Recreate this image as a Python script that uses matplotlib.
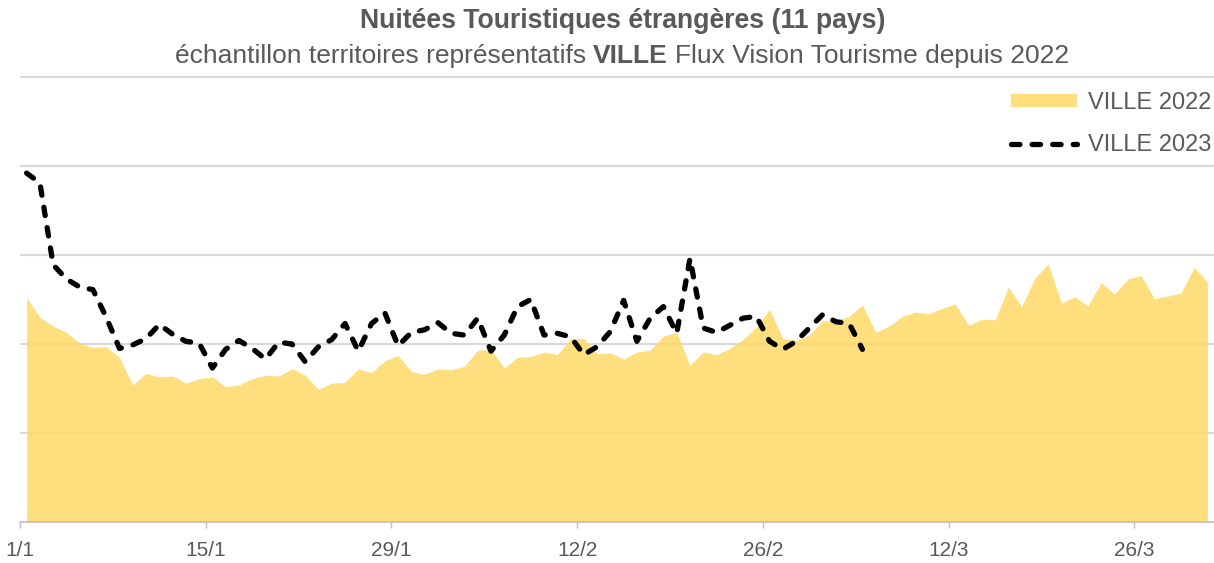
import numpy as np
import matplotlib
matplotlib.use('Agg')
import matplotlib.pyplot as plt
from matplotlib.patches import Patch
from matplotlib.lines import Line2D

# ---- data ----
tick_labels = ['1/1', '15/1', '29/1', '12/2', '26/2', '12/3', '26/3']
tick_days = [0, 14, 28, 42, 56, 70, 84]

v2022 = [2.52, 2.30, 2.20, 2.13, 2.01, 1.96, 1.97, 1.85, 1.54, 1.67,
         1.63, 1.64, 1.56, 1.61, 1.63, 1.52, 1.54, 1.61, 1.65, 1.64,
         1.72, 1.65, 1.49, 1.56, 1.57, 1.72, 1.68, 1.81, 1.87, 1.69,
         1.66, 1.72, 1.71, 1.75, 1.93, 1.94, 1.73, 1.85, 1.86, 1.91,
         1.88, 2.06, 2.06, 1.89, 1.90, 1.83, 1.91, 1.93, 2.09, 2.13,
         1.76, 1.91, 1.88, 1.95, 2.05, 2.19, 2.39, 2.06, 2.04, 2.10,
         2.26, 2.26, 2.31, 2.44, 2.13, 2.20, 2.31, 2.36, 2.34, 2.40,
         2.45, 2.21, 2.28, 2.27, 2.64, 2.42, 2.74, 2.90, 2.46, 2.53,
         2.43, 2.69, 2.56, 2.73, 2.77, 2.51, 2.54, 2.57, 2.86, 2.70]

v2023 = [3.92, 3.81, 2.89, 2.73, 2.64, 2.61, 2.30, 1.95, 1.99, 2.06,
         2.22, 2.11, 2.03, 2.01, 1.73, 1.94, 2.04, 1.95, 1.83, 2.02,
         2.00, 1.80, 1.97, 2.05, 2.23, 1.92, 2.23, 2.35, 1.98, 2.13,
         2.16, 2.24, 2.12, 2.10, 2.29, 1.92, 2.10, 2.42, 2.50, 2.10,
         2.12, 2.08, 1.88, 1.97, 2.14, 2.49, 2.03, 2.29, 2.42, 2.12,
         2.96, 2.18, 2.13, 2.21, 2.29, 2.31, 2.03, 1.94, 2.03, 2.18,
         2.33, 2.25, 2.23, 1.94]

labels = ['VILLE 2022', 'VILLE 2023']
title1 = 'Nuitées Touristiques étrangères (11 pays)'
sub_parts = [('échantillon territoires représentatifs', 'normal'),
             ('VILLE', 'bold'),
             ('Flux Vision Tourisme depuis 2022', 'normal')]

# ---- style ----
plt.rcParams['font.family'] = ['Liberation Sans', 'DejaVu Sans']
GREY = '#595959'
AREA = '#FFD966'

W, H = 1214, 563
fig = plt.figure(figsize=(W / 100, H / 100), dpi=100)
ymax = 5.02
top_px = 522 - ymax * 89
left_px = 20
ax = fig.add_axes([left_px / W, (H - 522) / H, (W - left_px) / W, (522 - top_px) / H])

x2022 = np.arange(len(v2022))
x2023 = np.arange(len(v2023))

ax.fill_between(x2022, v2022, 0, color=AREA, alpha=0.85, lw=0, zorder=2)
ax.plot(x2023, v2023, color='black', lw=3.8, linestyle=(0, (1.6, 2.3)),
        dash_capstyle='round', solid_capstyle='round', zorder=3)

ax.set_xlim(-0.5, len(v2022) - 0.5)
ax.set_ylim(0, ymax)
ax.set_yticks([1, 2, 3, 4, 5])
ax.yaxis.grid(True, color='#d9d9d9', lw=1.5)
ax.set_axisbelow(True)
ax.tick_params(axis='y', left=False, labelleft=False)
ax.set_xticks([d - 0.5 for d in tick_days])
ax.set_xticklabels(tick_labels)
ax.tick_params(axis='x', length=4.5, width=1, color='#bfbfbf', labelsize=15,
               labelcolor=GREY, pad=9.5)
for s in ['top', 'left', 'right']:
    ax.spines[s].set_visible(False)
ax.spines['bottom'].set_color('#bfbfbf')
ax.spines['bottom'].set_linewidth(1.2)
ax.spines['bottom'].set_zorder(4)

# legend
handles = [Patch(facecolor=AREA, alpha=0.85, edgecolor='none'),
           Line2D([0], [0], color='black', lw=3.8, linestyle=(0, (1.6, 2.3)),
                  dash_capstyle='round')]
leg = fig.legend(handles, labels, loc='upper right',
                 bbox_to_anchor=(1211 / W, 1 - 92 / H), frameon=False,
                 fontsize=17, labelcolor=GREY, handlelength=2.8,
                 handleheight=0.45, handletextpad=0.45, labelspacing=0.85,
                 borderpad=0, borderaxespad=0)

# titles
fig.text(0.5 * (358 + 888) / W, 1 - 21 / H, title1, ha='center', va='center',
         fontsize=19.2, fontweight='bold', color=GREY)

renderer = fig.canvas.get_renderer()
def twidth(s, weight):
    t = fig.text(0, 0, s, fontsize=19, fontweight=weight)
    w = t.get_window_extent(renderer).width
    t.remove()
    return w
space_w = twidth('a a', 'normal') - twidth('aa', 'normal')
widths = [twidth(s, wgt) for s, wgt in sub_parts]
total = sum(widths) + space_w * (len(sub_parts) - 1)
cx = 0.5 * (169 + 1075)
x0 = cx - total / 2
y_sub = H - 56
for (s, wgt), w in zip(sub_parts, widths):
    fig.text(x0 / W, y_sub / H, s, ha='left', va='center', fontsize=19,
             fontweight=wgt, color=GREY)
    x0 += w + space_w

fig.savefig('out.png', dpi=100)
